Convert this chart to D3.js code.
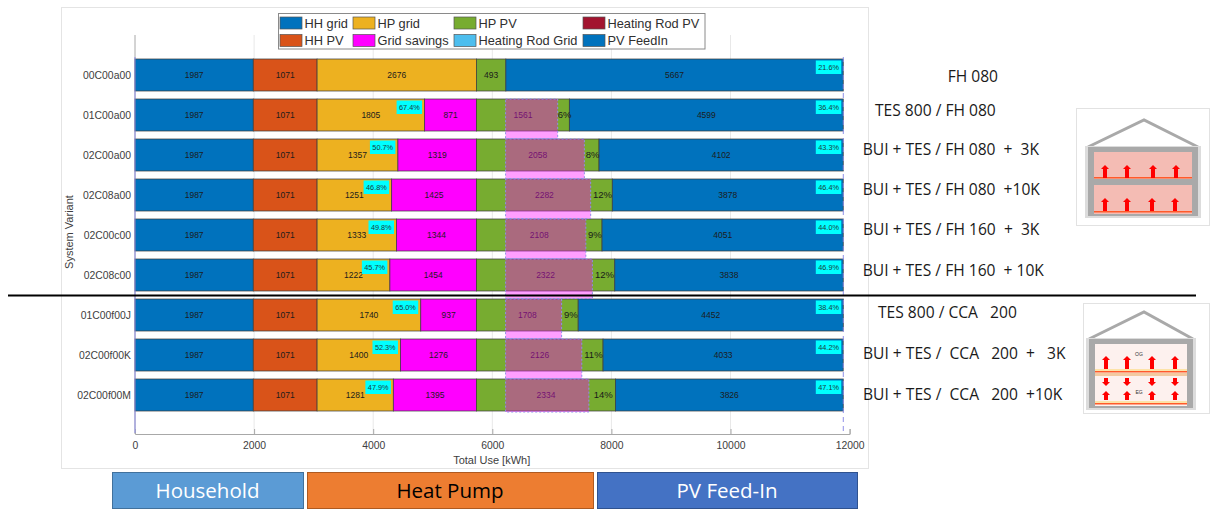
<!DOCTYPE html>
<html><head><meta charset="utf-8">
<style>
html,body{margin:0;padding:0;background:#fff}
svg{display:block}
text{font-family:"Liberation Sans",Arial,sans-serif}
.slide{font-family:"Open Sans","Noto Sans",sans-serif}
</style>
<script src="https://cdn.jsdelivr.net/npm/d3@7"></script>
</head><body>
<svg id="c" width="1210" height="509"></svg>
<script>
const variants=["00C00a00","01C00a00","02C00a00","02C08a00","02C00c00","02C08c00","01C00f00J","02C00f00K","02C00f00M"];
const hhGrid=[1987,1987,1987,1987,1987,1987,1987,1987,1987];
const hhPV=[1071,1071,1071,1071,1071,1071,1071,1071,1071];
const hpGrid=[2676,1805,1357,1251,1333,1222,1740,1400,1281];
const gridSavings=[0,871,1319,1425,1344,1454,937,1276,1395];
const hpPV=[493,1561,2058,2282,2108,2322,1708,2126,2334];
const pvFeedIn=[5667,4599,4102,3878,4051,3838,4452,4033,3826];
const cyanShare=["","67.4%","50.7%","46.8%","49.8%","45.7%","65.0%","52.3%","47.9%"];
const selfShare=["21.6%","36.4%","43.3%","46.4%","44.0%","46.9%","38.4%","44.2%","47.1%"];
const pvShare=["","6%","8%","12%","9%","12%","9%","11%","14%"];
const systemLabels=["FH 080","TES 800 / FH 080","BUI + TES / FH 080  +  3K","BUI + TES / FH 080  +10K","BUI + TES / FH 160  +  3K","BUI + TES / FH 160  + 10K","TES 800 / CCA   200","BUI + TES /  CCA   200  +   3K","BUI + TES /  CCA   200  +10K"];
const systemLabelX=[947.7,875,862.7,862.7,863,862.7,878,863,863];
const systemLabelY=[81.7,115.7,154.7,194.7,234.7,275.7,317.7,358.7,399.7];
const xTicks=[0,2000,4000,6000,8000,10000,12000];
const legendRows=[["HH grid","#0072BD"],["HP grid","#EDB120"],["HP PV","#77AC30"],["Heating Rod PV","#A2142F"],["HH PV","#D95319"],["Grid savings","#FF00FF"],["Heating Rod Grid","#4DBEEE"],["PV FeedIn","#0072BD"]];
const groupBoxes=[["Household","#5B9BD5","#41719C","#fff"],["Heat Pump","#ED7D31","#AE5A21","#000"],["PV Feed-In","#4472C4","#2F528F","#fff"]];

const svg=d3.select("#c");
const x=d3.scaleLinear().domain([0,12000]).range([135,849.6]);
const y=d3.scaleLinear().domain([0,10]).range([35,435]);
const barH=y(0.8)-y(0);

// chart panel
svg.append("rect").attr("x",61.5).attr("y",7.5).attr("width",807).attr("height",461).attr("fill","#fff").attr("stroke","#e4e4e4");

// grid
svg.append("g").selectAll("line").data(xTicks.slice(1,-1)).join("line")
 .attr("x1",d=>x(d)).attr("x2",d=>x(d)).attr("y1",y(0)).attr("y2",y(10)).attr("stroke","#e8e8e8");

// axes
const ax=svg.append("g").attr("transform",`translate(0,${y(10)-1})`)
 .call(d3.axisBottom(x).tickValues(xTicks).tickFormat(d3.format("d")).tickSize(-5).tickPadding(8));
ax.selectAll("path,line").attr("stroke","#a8a8a8");
ax.selectAll("text").attr("fill","#404040").attr("font-size",10.4).attr("font-family","Liberation Sans");
const ay=svg.append("g").attr("transform",`translate(${x(0)},0)`)
 .call(d3.axisLeft(d3.scalePoint().domain(variants).range([y(1),y(9)])).tickSize(0).tickPadding(4));
ay.selectAll("path").attr("stroke","#a8a8a8");
ay.select("path").attr("d",`M0,${y(0)}V${y(10)-1}`);
ay.selectAll("text").attr("fill","#404040").attr("font-size",10.4).attr("font-family","Liberation Sans");
svg.append("text").attr("x",x(5990)).attr("y",464).attr("text-anchor","middle").attr("fill","#404040").attr("font-size",11).text("Total Use [kWh]");
svg.append("text").attr("transform",`translate(73,${y(5)-3}) rotate(-90)`).attr("text-anchor","middle").attr("fill","#404040").attr("font-size",11).text("System Variant");

// stacked bars
const series=[[hhGrid,"#0072BD"],[hhPV,"#D95319"],[hpGrid,"#EDB120"],[gridSavings,"#FF00FF"],[hpPV,"#77AC30"],[pvFeedIn,"#0072BD"]];
const bars=svg.append("g"), labels=svg.append("g");
variants.forEach((v,i)=>{
  let acc=0;
  series.forEach(([vals,col])=>{
    const val=vals[i];
    if(val>0){
      bars.append("rect").attr("x",x(acc)).attr("y",y(i+1)-barH/2).attr("width",x(acc+val)-x(acc)).attr("height",barH)
        .attr("fill",col).attr("stroke","#3c3c3c").attr("stroke-width",0.9).attr("stroke-opacity",0.8);
      labels.append("text").attr("x",x(acc+val/2)).attr("y",y(i+1)+3).attr("text-anchor","middle")
        .attr("font-size",8.5).attr("fill","#1c1c1c").text(val);
    }
    acc+=val;
  });
});

// grid-savings overlay on the PV part of the heat pump
const ovStart=hhGrid[0]+hhPV[0]+hpGrid[0]+hpPV[0];
const ov=svg.append("g");
variants.forEach((v,i)=>{
  if(gridSavings[i]<=0) return;
  const top=y(i+1)-barH/2;
  const h=i===variants.length-1?barH+1:y(1)-y(0)-0.5;
  ov.append("rect").attr("x",x(ovStart-4)).attr("y",top).attr("width",x(ovStart+gridSavings[i])-x(ovStart-4)).attr("height",h)
    .attr("fill","#FF00FF").attr("fill-opacity",0.38).attr("stroke","#8f8fe8").attr("stroke-width",1).attr("stroke-dasharray","2 2");
});

// dashed bounding edges
svg.append("line").attr("x1",x(0)).attr("x2",x(0)).attr("y1",y(0.55)).attr("y2",y(10)-2).attr("stroke","#8f8fe8");
svg.append("line").attr("x1",x(11894)).attr("x2",x(11894)).attr("y1",y(0.55)).attr("y2",y(10)-2).attr("stroke","#8f8fe8").attr("stroke-dasharray","5 4");

// annotations
const ann=svg.append("g");
variants.forEach((v,i)=>{
  const yc=y(i+1), top=yc-barH/2;
  if(cyanShare[i]){
    const end=x(hhGrid[i]+hhPV[i]+hpGrid[i])-2.5;
    ann.append("rect").attr("x",end-25.5).attr("y",top+1.5).attr("width",25.5).attr("height",13.5).attr("fill","#00FFFF");
    ann.append("text").attr("x",end-12.7).attr("y",top+11).attr("text-anchor","middle").attr("font-size",7.3).attr("fill","#1c3c3c").text(cyanShare[i]);
  }
  const e=x(11894)-2;
  ann.append("rect").attr("x",e-25.5).attr("y",top+1.5).attr("width",25.5).attr("height",13.5).attr("fill","#00FFFF");
  ann.append("text").attr("x",e-12.7).attr("y",top+11).attr("text-anchor","middle").attr("font-size",7.3).attr("fill","#1c3c3c").text(selfShare[i]);
  if(pvShare[i]){
    const a=ovStart+gridSavings[i], b=hhGrid[i]+hhPV[i]+hpGrid[i]+gridSavings[i]+hpPV[i];
    ann.append("text").attr("x",x((a+b)/2)+1).attr("y",yc+3).attr("text-anchor","middle").attr("font-size",9.5).attr("fill","#1a1a1a").text(pvShare[i]);
  }
});

// legend
const lg=svg.append("g");
lg.append("rect").attr("x",278.5).attr("y",13.5).attr("width",426.5).attr("height",35.5).attr("fill","#fff").attr("stroke","#8a8a8a");
const colX=[280,353,454,583];
legendRows.forEach(([name,col],k)=>{
  const cx=colX[k%4], cy=k<4?23:40.5;
  lg.append("rect").attr("x",cx).attr("y",cy-6).attr("width",22).attr("height",12).attr("fill",col).attr("stroke","#555").attr("stroke-width",0.7);
  lg.append("text").attr("x",cx+24.5).attr("y",cy+4.5).attr("font-size",12.8).attr("fill","#303030").text(name);
});

// divider
svg.append("line").attr("x1",8).attr("x2",1196).attr("y1",295.5).attr("y2",295.5).attr("stroke","#000").attr("stroke-width",2);

// system labels
svg.append("g").selectAll("text").data(systemLabels).join("text").attr("class","slide")
 .attr("x",(d,i)=>systemLabelX[i]).attr("y",(d,i)=>systemLabelY[i])
 .attr("font-size",15.6).attr("fill","#1a1a1a").style("white-space","pre").text(d=>d);

// group boxes
const bx=[[112,191],[307,286],[597,260]];
groupBoxes.forEach(([t,f,s,tc],k)=>{
  svg.append("rect").attr("x",bx[k][0]+.5).attr("y",472.5).attr("width",bx[k][1]).attr("height",36).attr("fill",f).attr("stroke",s);
  svg.append("text").attr("class","slide").attr("x",bx[k][0]+bx[k][1]/2).attr("y",498).attr("text-anchor","middle").attr("font-size",20.5).attr("fill",tc).text(t);
});

// house icons
function house(o){
  const g=svg.append("g");
  g.append("rect").attr("x",o.fx).attr("y",o.fy).attr("width",o.fw).attr("height",o.fh).attr("fill","#fff").attr("stroke","#e2e2e2");
  const gray="#a9a9a9";
  g.append("path").attr("d",`M${o.l},${o.eave}L${o.cx},${o.apex}L${o.r},${o.eave}`).attr("fill","none").attr("stroke",gray).attr("stroke-width",3);
  g.append("rect").attr("x",o.l-3).attr("y",o.eave-1).attr("width",o.r-o.l+6).attr("height",o.bot-o.eave+3).attr("fill","#dcdcdc");
  g.append("rect").attr("x",o.l).attr("y",o.eave).attr("width",o.r-o.l).attr("height",o.bot-o.eave).attr("fill",gray);
  const ins=6;
  g.append("rect").attr("x",o.l+ins).attr("y",o.eave+5).attr("width",o.r-o.l-2*ins).attr("height",o.bot-o.eave-7).attr("fill",o.room);
  g.append("rect").attr("x",o.l+ins).attr("y",o.floor).attr("width",o.r-o.l-2*ins).attr("height",o.fthick).attr("fill",o.slab);
  [o.floor,o.bot-3].forEach(yy=>{
    g.append("rect").attr("x",o.l+ins).attr("y",yy-2).attr("width",o.r-o.l-2*ins).attr("height",1.5).attr("fill","#ff5a2a");
    if(o.glow) g.append("rect").attr("x",o.l+ins).attr("y",yy-4).attr("width",o.r-o.l-2*ins).attr("height",2).attr("fill","#fde3a8");
  });
  const arrow=(ax,y0,y1)=>{const d=y1<y0?-1:1;
    g.append("path").attr("fill","#ff0000").attr("d",`M${ax-2},${y0}V${y1-d*4}H${ax-4}L${ax},${y1}L${ax+4},${y1-d*4}H${ax+2}V${y0}Z`);};
  o.arrows.forEach(([xs,y0,y1])=>xs.forEach(a=>arrow(a,y0,y1)));
  (o.tags||[]).forEach(([t,a,b])=>g.append("text").attr("x",a).attr("y",b).attr("text-anchor","middle").attr("font-size",5).attr("fill","#333").text(t));
}
house({fx:1076.5,fy:108.5,fw:133,fh:117,l:1088,r:1198,cx:1144,apex:120,eave:147,bot:216,floor:179,fthick:6,room:"#f4bcb4",slab:"#a9a9a9",
  arrows:[[[1105,1127,1153,1176],178,165],[[1105,1127,1152,1175],211,198]]});
house({fx:1083.5,fy:303.5,fw:126,fh:110,l:1089,r:1193,cx:1144,apex:312,eave:339,bot:408,floor:373,fthick:3,room:"#fdf1ee",slab:"#f3c9a0",glow:true,
  arrows:[[[1106,1127,1152,1175],369,356],[[1106,1127,1152,1175],378,386],[[1106,1127,1152,1175],400,391]],tags:[["OG",1139,356],["EG",1139,394]]});
</script>
</body></html>
